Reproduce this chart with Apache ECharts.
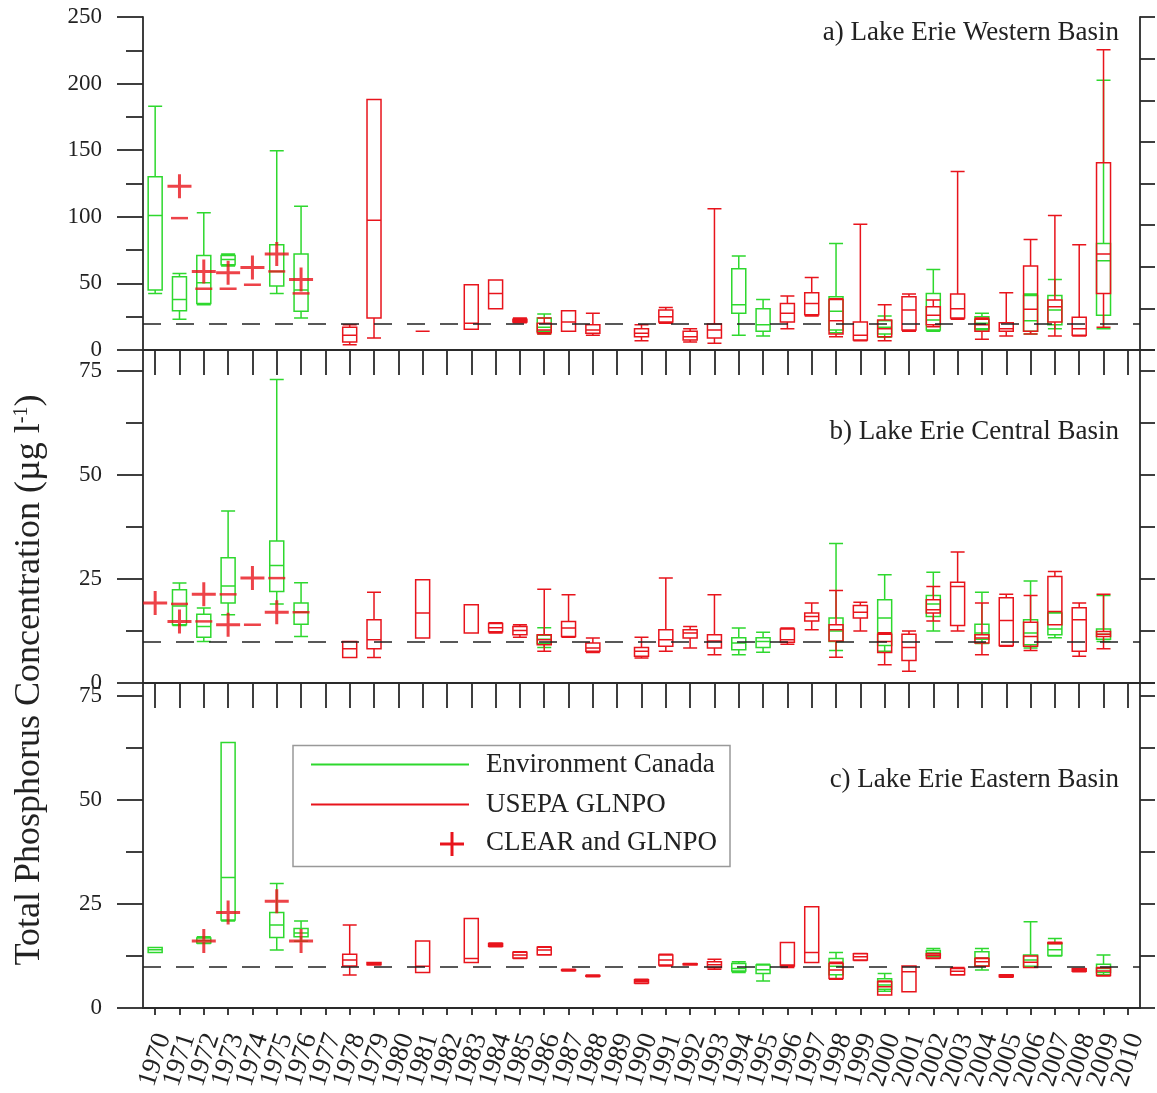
<!DOCTYPE html>
<html><head><meta charset="utf-8">
<script src="https://cdn.jsdelivr.net/npm/echarts@6/dist/echarts.min.js"></script>
<style>html,body{margin:0;padding:0;background:#fff}#c{width:1157px;height:1093px}</style>
</head><body><div id="c"></div>
<script>
// ---------- categories ----------
const years = ['1970','1971','1972','1973','1974','1975','1976','1977','1978','1979',
  '1980','1981','1982','1983','1984','1985','1986','1987','1988','1989',
  '1990','1991','1992','1993','1994','1995','1996','1997','1998','1999',
  '2000','2001','2002','2003','2004','2005','2006','2007','2008','2009','2010'];

// ---------- a) Western Basin : [year, min, Q1, median, Q3, max] ----------
const westEC = [
  [1970,42.5,45,101,130,183],[1971,23,29.5,38,55,57.5],[1972,34,35,50.5,71,103],
  [1973,63,64,68,71,72],[1975,42.5,48,59,79,149.5],[1976,24,29,45,72,108],
  [1986,12,14,17,24,27],[1994,11,27.5,34,61,70.5],[1995,10.5,14,19,31,38],
  [1998,13,15,29,40,80],[2000,9.5,12,17,22,25.5],[2002,14,15,22.5,42.5,60.5],
  [2004,15,16,20,25,27.5],[2006,12,14,22,41,42],[2007,16,19,30,41,53],
  [2009,16,26,67,80,202.5]
];
const westUS = [
  [1978,4,6,11,17,19],[1979,9,24,97.5,188,188],[1981,14,14,14,14,14],
  [1983,15.5,15.5,20,49,49],[1984,31,31,42.5,52.5,52.5],[1985,20.5,21,22,23,24],
  [1986,12,13,15,20,24],[1987,14,14,21,29.5,29.5],[1988,11,12.5,15,19,27.5],
  [1990,7,10,12.5,16,19],[1991,20,21,25,30,32],[1992,6,7.5,10,14,16],
  [1993,5,9,15,19.5,106],[1996,16,21,27.5,35,40.5],[1997,25.5,26.5,35,43,54.5],
  [1998,10,12,22,38,38.5],[1999,7,7.5,11,21,94.5],[2000,7,10,16,22.5,34],
  [2001,14,15,30,40,42],[2002,17.5,19,26,32.5,37.5],[2003,23,24,31,42,134],
  [2004,8,14,19,23,24],[2005,10.5,14,16,20.5,43],[2006,12,14,30.5,63,83],
  [2007,10.5,21,32.5,37.5,101],[2008,10.5,11,16,24.5,79],[2009,17,42.5,72,140.5,225.5]
];
const westClear = [[1971,123],[1972,59],[1973,58],[1974,62],[1975,72],[1976,53]];
const westClearDash = [[1971,99],[1972,46],[1973,46],[1974,49],[1975,59],[1976,42.5]];
const westTarget = 20;
const westTicks = [0,50,100,150,200,250];
const westMinor = [25,75,125,175,225];

// ---------- b) Central Basin ----------
const centEC = [
  [1971,13.8,14,18.5,22.4,24],[1972,10,11,13.6,16.5,18],[1973,16.4,19.2,23.3,30.1,41.3],
  [1975,19,22,28.2,34.1,72.9],[1976,11.2,14.1,17,19.2,24.1],[1986,8.5,9.5,10.5,11.5,13.3],
  [1994,6.8,8,9.6,10.9,13.2],[1995,7.4,8.5,10,10.9,12.2],[1998,7.8,10,12.5,15.6,33.5],
  [2000,7.6,9,15.6,20,26],[2002,12.5,16,19,21,26.6],[2004,9.5,10.5,12,14.1,21.8],
  [2006,8.4,9.2,12,15.2,24.5],[2007,10.9,11.6,13,16.8,17],[2009,10,10.5,11.7,13,21]
];
const centUS = [
  [1978,6.1,6.1,8.2,10,10],[1979,6.1,8.2,10.4,15.2,21.8],[1981,10.8,10.8,16.8,24.8,24.8],
  [1983,12,12,12,18.8,18.8],[1984,12,12.3,13.3,14.3,14.5],[1985,11,11.6,12.6,13.6,14],
  [1986,7.6,9.2,10.4,11.6,22.5],[1987,11,11.2,13.2,14.8,21.2],[1988,7.3,7.6,8.4,9.6,10.8],
  [1990,6,6.4,7.6,8.5,11],[1991,7.6,8.8,10.4,12.8,25.2],[1992,8.4,10.8,12,12.8,13.6],
  [1993,6.8,8.4,10.1,11.6,21.2],[1996,9.3,9.8,10.4,13,13.2],[1997,12.8,14.9,16,16.8,19.2],
  [1998,6.2,10.1,12.8,14,22.2],[1999,12.5,15.6,17,18.6,19.4],[2000,4.4,7.3,10,11.7,12.1],
  [2001,2.8,5.4,8.5,11.7,12.5],[2002,14.9,16.8,17.6,20,23.2],[2003,12.5,13.8,23.2,24.2,31.5],
  [2004,6.8,9.6,10.8,11.6,19.2],[2005,8.8,9,15,20.5,21.3],[2006,7.8,8.8,11.2,14.6,21],
  [2007,14,14,17.2,25.6,26.8],[2008,6.4,7.6,15.2,18.1,19.2],[2009,8.2,11.2,11.7,12.4,21.3]
];
const centClear = [[1970,19.2],[1971,14.8],[1972,21.3],[1973,14],[1974,25.2],[1975,17]];
const centClearDash = [[1971,19],[1972,14.8],[1973,21.3],[1974,14],[1975,25.2],[1976,17]];
const centTarget = 10;
const centTicks = [0,25,50,75];
const centMinor = [12.5,37.5,62.5];

// ---------- c) Eastern Basin ----------
const eastEC = [
  [1970,13.3,13.3,14,14.5,14.5],[1972,15.5,15.6,16.2,16.8,17.1],[1973,20.9,21.1,31.3,63.7,63.7],
  [1975,13.9,16.9,19.9,22.9,29.9],[1976,16,17.1,18,19.1,20.9],[1994,8.5,8.9,9.5,10.7,11.1],
  [1995,6.5,8.3,9.2,10.3,10.5],[1998,6.9,8,10,11.9,13.3],[2000,4,4.5,5.5,7,8.3],
  [2002,12.3,12.6,13.2,13.8,14.3],[2004,9.1,10,12,13.5,14.3],[2006,9.8,10,11.5,12.7,20.7],
  [2007,12.5,12.6,14,15.5,16.7],[2009,8,8.5,9.5,10.5,12.7]
];
const eastUS = [
  [1978,7.9,10.1,11.5,12.9,19.9],[1979,10.3,10.4,10.6,10.9,10.9],[1981,8.5,8.5,10,16.1,16.1],
  [1983,10.9,10.9,11.9,21.5,21.5],[1984,14.7,14.8,15.1,15.5,15.6],[1985,11.9,12,12.7,13.4,13.5],
  [1986,12.7,12.8,13.9,14.6,14.7],[1987,8.9,9,9.1,9.2,9.3],[1988,7.5,7.6,7.7,7.8,7.9],
  [1990,5.9,6,6.4,6.8,6.9],[1991,10.1,10.3,11.5,12.7,12.9],[1992,10.3,10.4,10.5,10.6,10.7],
  [1993,9.3,9.7,10.4,11.1,11.7],[1996,9.7,10.1,10.3,15.7,15.7],[1997,10.9,10.9,13.3,24.3,24.3],
  [1998,6.9,7.1,9.1,10.7,11],[1999,11.4,11.5,12.3,13,13.1],[2000,3.1,3.1,5.1,6.3,6.5],
  [2001,3.9,3.9,8.7,10.1,10.1],[2002,11.9,12,12.6,13,13.1],[2003,7.9,8,8.8,9.5,9.7],
  [2004,10,10.1,11.1,11.9,12],[2005,7.4,7.5,7.7,7.9,8],[2006,9.7,9.7,11,12.5,12.5],
  [2007,15.4,15.5,15.6,15.7,15.8],[2008,8.7,8.8,9.1,9.4,9.5],[2009,7.7,7.8,8.9,9.6,9.7]
];
const eastClear = [[1972,16.1],[1973,22.9],[1975,25.6],[1976,16.1]];
const eastClearDash = [];
const eastTarget = 10;
const eastTicks = [0,25,50,75];
const eastMinor = [12.5,37.5,62.5];

// ---------- styling ----------
const GREEN = '#2ed82e', RED = '#e8141c', AX = '#2a2a2a', FONT = 'Liberation Serif';
const PLUS = 'path://M10.5,0h3v24h-3z M0,10.5h24v3h-24z';

const panels = [
  {ec:westEC, us:westUS, clr:westClear, dash:westClearDash, target:westTarget, ticks:westTicks, minor:westMinor,
   max:250, rightInt:31.25, top:17, height:333, title:'a) Lake Erie Western Basin', titleY:33},
  {ec:centEC, us:centUS, clr:centClear, dash:centClearDash, target:centTarget, ticks:centTicks, minor:centMinor,
   max:80, rightInt:12.5, top:350, height:333, title:'b) Lake Erie Central Basin', titleY:432},
  {ec:eastEC, us:eastUS, clr:eastClear, dash:eastClearDash, target:eastTarget, ticks:eastTicks, minor:eastMinor,
   max:78, rightInt:12.5, top:683, height:325, title:'c) Lake Erie Eastern Basin', titleY:780}
];

const grid = [], xAxis = [], yAxis = [], series = [], graphic = [];
const line = {color: AX, width: 1.8};
const toBox = rows => rows.map(r => [String(r[0]), r[1], r[2], r[3], r[4], r[5]]);
const toPt = rows => rows.map(r => [String(r[0]), r[1]]);

panels.forEach((p, i) => {
  grid.push({left: 143, width: 997, top: p.top, height: p.height});
  // visible category axis
  xAxis.push({
    gridIndex: i, type: 'category', data: years, boundaryGap: true, position: 'bottom',
    axisLine: {onZero: false, lineStyle: line},
    axisTick: {show: true, alignWithLabel: true, interval: 0, inside: false, length: i < 2 ? 25 : 7, lineStyle: line},
    axisLabel: i < 2 ? {show: false} : {show: true, interval: 0, rotate: 72, fontSize: 27, fontFamily: FONT,
      color: '#222', margin: 52, align: 'center', verticalAlign: 'middle'},
    splitLine: {show: false}
  });
  // hidden twin axis so the two box series overlap instead of sitting side by side
  xAxis.push({gridIndex: i, type: 'category', data: years, boundaryGap: true, position: 'top', show: false});
  yAxis.push({
    gridIndex: i, type: 'value', min: 0, max: p.max, position: 'left',
    axisLine: {show: true, onZero: false, lineStyle: line},
    axisTick: {show: true, inside: false, length: 26, customValues: p.ticks, lineStyle: line},
    axisLabel: {show: true, customValues: p.ticks, margin: 41, fontSize: 23, fontFamily: FONT, color: '#222'},
    splitLine: {show: false}
  });
  yAxis.push({
    gridIndex: i, type: 'value', min: 0, max: p.max, position: 'left',
    axisLine: {show: false},
    axisTick: {show: true, inside: false, length: 17, customValues: p.minor, lineStyle: line},
    axisLabel: {show: false}, splitLine: {show: false}
  });
  yAxis.push({
    gridIndex: i, type: 'value', min: 0, max: p.max, interval: p.rightInt, position: 'right',
    axisLine: {show: true, onZero: false, lineStyle: line},
    axisTick: {show: true, inside: false, length: 15, lineStyle: line},
    axisLabel: {show: false}, splitLine: {show: false}
  });
  const yi = i * 3, xi = i * 2;
  series.push({
    type: 'boxplot', xAxisIndex: xi, yAxisIndex: yi, encode: {x: 0, y: [1,2,3,4,5]},
    data: toBox(p.ec), boxWidth: [14, 14], silent: true,
    itemStyle: {color: 'rgba(0,0,0,0)', borderColor: GREEN, borderWidth: 1.5},
    emphasis: {disabled: true},
    markLine: {silent: true, symbol: 'none', label: {show: false},
      lineStyle: {type: [18, 15], color: '#222', width: 1.6}, data: [{yAxis: p.target}]}
  });
  series.push({
    type: 'boxplot', xAxisIndex: xi + 1, yAxisIndex: yi, encode: {x: 0, y: [1,2,3,4,5]},
    data: toBox(p.us), boxWidth: [14, 14], silent: true,
    itemStyle: {color: 'rgba(0,0,0,0)', borderColor: RED, borderWidth: 1.5},
    emphasis: {disabled: true}
  });
  if (p.dash.length) series.push({
    type: 'scatter', xAxisIndex: xi, yAxisIndex: yi, data: toPt(p.dash), silent: true,
    symbol: 'rect', symbolSize: [17, 2.5], itemStyle: {color: RED}
  });
  series.push({
    type: 'scatter', xAxisIndex: xi, yAxisIndex: yi, data: toPt(p.clr), silent: true,
    symbol: PLUS, symbolSize: 24, itemStyle: {color: RED}
  });
  graphic.push({type: 'text', x: 1119, y: p.titleY,
    style: {text: p.title, font: '27px "Liberation Serif"', fill: '#222', align: 'right', verticalAlign: 'middle'}});
});

// y-axis title
graphic.push({type: 'text', x: 30, y: 680, rotation: Math.PI / 2,
  style: {text: 'Total Phosphorus Concentration (µg l{sup|-1})', fontFamily: FONT, fontSize: 36, fill: '#222',
    align: 'center', verticalAlign: 'middle',
    rich: {sup: {fontFamily: FONT, fontSize: 20, verticalAlign: 'top', padding: [0, 0, 16, 0]}}}});

// legend box
graphic.push({type: 'rect', shape: {x: 293, y: 745.5, width: 437, height: 121},
  style: {fill: '#fff', stroke: '#999', lineWidth: 1.5}, z: 10});
graphic.push({type: 'line', shape: {x1: 311, y1: 764.5, x2: 469, y2: 764.5}, style: {stroke: GREEN, lineWidth: 1.8}, z: 11});
graphic.push({type: 'line', shape: {x1: 311, y1: 804.5, x2: 469, y2: 804.5}, style: {stroke: RED, lineWidth: 1.8}, z: 11});
graphic.push({type: 'rect', shape: {x: 450.5, y: 832, width: 3, height: 24}, style: {fill: RED}, z: 11});
graphic.push({type: 'rect', shape: {x: 440, y: 842.5, width: 24, height: 3}, style: {fill: RED}, z: 11});
[['Environment Canada', 765], ['USEPA GLNPO', 805], ['CLEAR and GLNPO', 843]].forEach(t => {
  graphic.push({type: 'text', x: 486, y: t[1], z: 11,
    style: {text: t[0], font: '27px "Liberation Serif"', fill: '#222', verticalAlign: 'middle'}});
});

const chart = echarts.init(document.getElementById('c'), null, {renderer: 'canvas'});
chart.setOption({animation: false, backgroundColor: '#fff', grid, xAxis, yAxis, series, graphic});
</script></body></html>
